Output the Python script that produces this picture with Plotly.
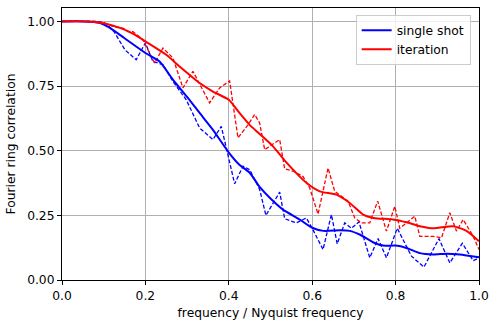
import plotly.graph_objects as go

# smooth curves
f_single = [0.0, 0.05, 0.09, 0.115, 0.15, 0.2, 0.234, 0.266, 0.3, 0.33, 0.362, 0.4, 0.426,
            0.45, 0.474, 0.5, 0.53, 0.57, 0.6, 0.627, 0.667, 0.69, 0.715, 0.747, 0.77, 0.8,
            0.826, 0.858, 0.89, 0.922, 0.954, 1.0]
frc_single = [1.0, 1.0, 0.995, 0.975, 0.935, 0.878, 0.845, 0.775, 0.708, 0.646, 0.581, 0.493, 0.445,
              0.415, 0.36, 0.315, 0.272, 0.234, 0.202, 0.19, 0.192, 0.19, 0.175, 0.145, 0.133, 0.133,
              0.124, 0.104, 0.099, 0.102, 0.099, 0.088]

f_iter = [0.0, 0.06, 0.1, 0.139, 0.17, 0.2, 0.25, 0.282, 0.33, 0.362, 0.4, 0.426, 0.45, 0.474,
          0.506, 0.538, 0.586, 0.618, 0.658, 0.69, 0.722, 0.747, 0.794, 0.826, 0.858, 0.89,
          0.938, 0.97, 1.0]
frc_iter = [1.0, 1.0, 0.993, 0.975, 0.953, 0.923, 0.871, 0.826, 0.762, 0.729, 0.697, 0.645, 0.6, 0.565,
            0.517, 0.455, 0.376, 0.343, 0.33, 0.298, 0.253, 0.24, 0.234, 0.223, 0.208, 0.2,
            0.208, 0.19, 0.15]

# raw (noisy) curves
f_single_raw = [0.0, 0.08, 0.1, 0.107, 0.125, 0.151, 0.178, 0.2, 0.218, 0.242, 0.266, 0.298, 0.33,
                0.362, 0.382, 0.414, 0.434, 0.45, 0.474, 0.489, 0.522, 0.534, 0.562, 0.586, 0.6,
                0.626, 0.646, 0.66, 0.678, 0.694, 0.712, 0.738, 0.758, 0.778, 0.804, 0.838, 0.868,
                0.904, 0.93, 0.96, 0.986, 1.0]
frc_single_raw = [1.0, 1.0, 0.995, 0.99, 0.96, 0.89, 0.852, 0.917, 0.845, 0.833, 0.768, 0.697, 0.588,
                  0.543, 0.594, 0.372, 0.44, 0.427, 0.35, 0.25, 0.34, 0.237, 0.221, 0.24, 0.2,
                  0.118, 0.253, 0.14, 0.221, 0.2, 0.225, 0.086, 0.16, 0.086, 0.2, 0.092, 0.05,
                  0.16, 0.066, 0.142, 0.075, 0.085]

f_iter_raw = [0.0, 0.08, 0.1, 0.122, 0.146, 0.158, 0.17, 0.194, 0.222, 0.242, 0.266, 0.29, 0.314,
              0.354, 0.378, 0.402, 0.422, 0.446, 0.462, 0.474, 0.486, 0.522, 0.534, 0.556, 0.578,
              0.594, 0.614, 0.638, 0.654, 0.686, 0.702, 0.718, 0.738, 0.757, 0.778, 0.798, 0.81,
              0.846, 0.858, 0.89, 0.91, 0.93, 0.946, 0.962, 0.986, 1.0]
frc_iter_raw = [1.0, 1.0, 0.995, 0.981, 0.974, 0.961, 0.961, 0.929, 0.839, 0.897, 0.859, 0.743, 0.807,
                0.685, 0.743, 0.77, 0.55, 0.6, 0.64, 0.607, 0.504, 0.543, 0.43, 0.42, 0.4,
                0.356, 0.255, 0.433, 0.343, 0.305, 0.24, 0.221, 0.221, 0.305, 0.189, 0.285, 0.2,
                0.247, 0.169, 0.169, 0.163, 0.26, 0.189, 0.234, 0.169, 0.118]

fig = go.Figure()

fig.add_trace(go.Scatter(x=f_single_raw, y=frc_single_raw, mode="lines", showlegend=False,
                         line=dict(color="blue", width=1.3, dash="4px,2px")))
fig.add_trace(go.Scatter(x=f_iter_raw, y=frc_iter_raw, mode="lines", showlegend=False,
                         line=dict(color="red", width=1.3, dash="4px,2px")))
fig.add_trace(go.Scatter(x=f_single, y=frc_single, mode="lines", name="single shot",
                         line=dict(color="blue", width=2, shape="spline", smoothing=0.6)))
fig.add_trace(go.Scatter(x=f_iter, y=frc_iter, mode="lines", name="iteration",
                         line=dict(color="red", width=2, shape="spline", smoothing=0.6)))

axis_style = dict(showline=True, linecolor="black", linewidth=1, mirror=True,
                  showgrid=True, gridcolor="#b0b0b0", gridwidth=1, zeroline=False,
                  ticks="outside", ticklen=4, tickcolor="black",
                  tickfont=dict(size=12.3, color="black"))

fig.update_xaxes(range=[0, 1], dtick=0.2, tickformat=".1f",
                 title=dict(text="frequency / Nyquist frequency", font=dict(size=12.3, color="black"),
                            standoff=6),
                 **axis_style)
fig.update_yaxes(range=[0, 1.052], tick0=0, dtick=0.25, tickformat=".2f",
                 title=dict(text="Fourier ring correlation", font=dict(size=12.3, color="black"),
                            standoff=8),
                 **axis_style)

fig.update_layout(
    width=498, height=327,
    margin=dict(l=62, r=19, t=8, b=47),
    plot_bgcolor="white", paper_bgcolor="white",
    font=dict(family="DejaVu Sans", size=12.3, color="black"),
    legend=dict(x=0.98, y=0.975, xanchor="right", yanchor="top",
                bgcolor="rgba(255,255,255,0.8)", bordercolor="#cccccc", borderwidth=1,
                font=dict(size=12.3), tracegroupgap=0),
)

# drop the page's default body margin so the figure sits at the window's corner
fig.write_html("out.html", config={"displayModeBar": False},
               post_script="document.body.style.margin='0';")
